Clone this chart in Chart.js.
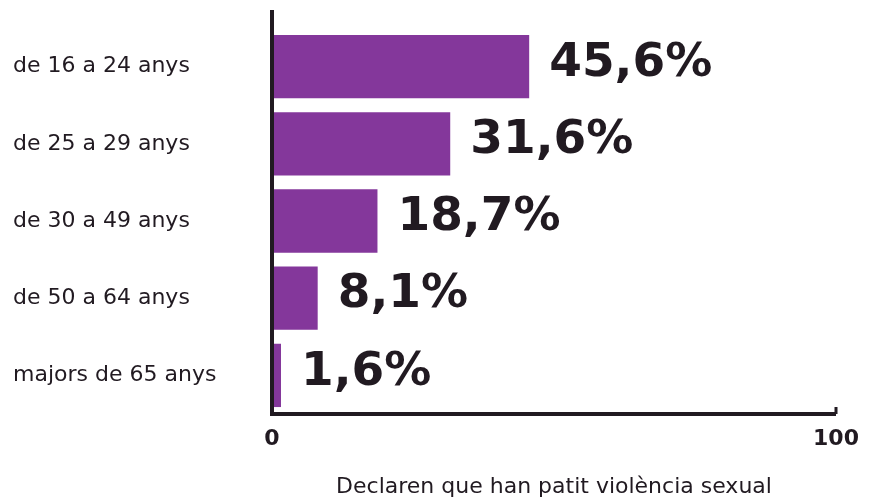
<!DOCTYPE html>
<html>
<head>
<meta charset="utf-8">
<script src="https://cdn.jsdelivr.net/npm/chart.js@4"></script>
<style>
  html, body { margin: 0; padding: 0; background: #fff; }
  #wrap { width: 871px; height: 502px; }
</style>
</head>
<body>
<div id="wrap"><canvas id="chart" width="871" height="502"></canvas></div>
<script>
// dades
const categories = ['de 16 a 24 anys', 'de 25 a 29 anys', 'de 30 a 49 anys', 'de 50 a 64 anys', 'majors de 65 anys'];
const values = [45.6, 31.6, 18.7, 8.1, 1.6];
const valueLabels = ['45,6%', '31,6%', '18,7%', '8,1%', '1,6%'];
const xTicks = [0, 100];
const axisTitle = 'Declaren que han patit violència sexual';

const ink = '#211a21';
const purple = '#84379b';

// etiquetes de valor i línies dels eixos
const extras = {
    id: 'extras',
    afterDatasetsDraw(chart) {
        const ctx = chart.ctx;
        const area = chart.chartArea;
        const x = chart.scales.x;
        ctx.save();
        ctx.strokeStyle = ink;
        ctx.lineWidth = 4;
        ctx.beginPath();
        ctx.moveTo(area.left, 10);
        ctx.lineTo(area.left, area.bottom);
        ctx.lineTo(x.getPixelForValue(100), area.bottom);
        ctx.stroke();
        ctx.lineWidth = 3;
        ctx.beginPath();
        ctx.moveTo(x.getPixelForValue(100), area.bottom);
        ctx.lineTo(x.getPixelForValue(100), area.bottom - 7);
        ctx.stroke();

        ctx.fillStyle = ink;
        ctx.font = 'bold 47px "DejaVu Sans"';
        ctx.textBaseline = 'middle';
        ctx.textAlign = 'left';
        chart.getDatasetMeta(0).data.forEach((bar, i) => {
            ctx.fillText(valueLabels[i], bar.x + 20, bar.y - 3);
        });
        ctx.restore();
    }
};

new Chart(document.getElementById('chart'), {
    type: 'bar',
    data: {
        labels: categories,
        datasets: [{
            data: values,
            backgroundColor: purple,
            borderWidth: 0,
            barPercentage: 0.82,
            categoryPercentage: 1
        }]
    },
    options: {
        indexAxis: 'y',
        responsive: false,
        animation: false,
        layout: { padding: { left: 13, top: 28, right: 35, bottom: 0 } },
        plugins: { legend: { display: false }, tooltip: { enabled: false } },
        scales: {
            x: {
                min: 0,
                max: 100,
                afterBuildTicks: (s) => { s.ticks = xTicks.map(v => ({ value: v })); },
                afterFit: (s) => { s.height = 88; },
                grid: { display: false, drawTicks: false },
                border: { display: false },
                ticks: {
                    padding: 12,
                    color: ink,
                    font: { family: 'DejaVu Sans', size: 22, weight: 'bold' }
                },
                title: {
                    display: true,
                    text: axisTitle,
                    color: ink,
                    font: { family: 'DejaVu Sans', size: 22 },
                    padding: { top: 0, bottom: 2 }
                }
            },
            y: {
                afterFit: (s) => { s.width = 259; },
                grid: { display: false, drawTicks: false },
                border: { display: false },
                ticks: {
                    crossAlign: 'far',
                    color: ink,
                    font: { family: 'DejaVu Sans', size: 22 }
                }
            }
        }
    },
    plugins: [extras]
});
</script>
</body>
</html>
